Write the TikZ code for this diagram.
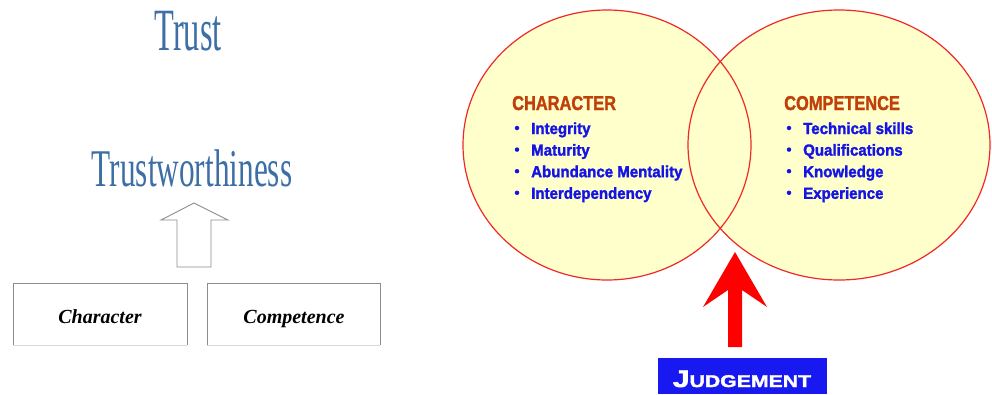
\documentclass[tikz,border=0pt]{standalone}
\usepackage{fontspec}
\setmainfont{Liberation Serif}
\newfontfamily\vsans{Liberation Sans}
\newfontfamily\vheavy{Liberation Sans Bold}[FakeBold=1.8]
\definecolor{trustblue}{HTML}{3D6FA6}
\definecolor{venfill}{HTML}{FFFFCC}
\definecolor{venline}{HTML}{F02828}
\definecolor{headred}{HTML}{C0400A}
\definecolor{itemblue}{HTML}{1414E6}
\definecolor{judgeblue}{HTML}{1818F0}
\definecolor{boxgray}{HTML}{8C8C8C}
\tikzset{
  bigtitle/.style={anchor=base, text=trustblue, inner sep=0pt},
  boxtext/.style={anchor=base, inner sep=0pt, font=\fontsize{20}{20}\selectfont\bfseries\itshape},
  venhead/.style={anchor=base west, inner sep=0pt, text=headred},
  venitem/.style={anchor=base west, inner sep=0pt, text=itemblue},
  venbullet/.style={circle, fill=itemblue, inner sep=0pt, minimum size=4.5pt},
}
\newcommand{\vhead}[1]{\scalebox{0.82}[1]{\vheavy\fontsize{20}{20}\selectfont #1}}
\newcommand{\vitem}[1]{\scalebox{0.94}[1]{\vheavy\fontsize{16}{16}\selectfont #1}}
\begin{document}
\begin{tikzpicture}[x=1pt,y=-1pt]
\useasboundingbox (0,0) rectangle (992,394);
% left part
\node[bigtitle] (trust) at (188,50) {\scalebox{0.54}[1]{\fontsize{60}{60}\selectfont Trust}};
\node[bigtitle] (tw) at (192,186) {\scalebox{0.59}[1]{\fontsize{53}{53}\selectfont Trustworthiness}};
\draw[boxgray, line width=0.9pt, line join=miter]
  (194,203) -- (228,220) -- (211,220) -- (211,267) -- (177,267) -- (177,220) -- (161,220) -- cycle;
\draw[boxgray, line width=0.9pt] (13,345) -- (13,283) -- (187,283) -- (187,345);
\draw[gray!30, line width=0.6pt] (13,345) -- (187,345);
\draw[boxgray, line width=0.9pt] (207,345) -- (207,283) -- (380,283) -- (380,345);
\draw[gray!30, line width=0.6pt] (207,345) -- (380,345);
\node[boxtext] (char) at (100,323) {Character};
\node[boxtext] (comp) at (294,323) {Competence};
% Venn diagram
\fill[venfill] (607,145) ellipse [x radius=144, y radius=135];
\fill[venfill] (839,145) ellipse [x radius=151, y radius=135];
\draw[venline, line width=1.2pt] (607,145) ellipse [x radius=144, y radius=135];
\draw[venline, line width=1.2pt] (839,145) ellipse [x radius=151, y radius=135];
\node[venhead] (ch) at (512,110) {\vhead{CHARACTER}};
\node[venhead] (co) at (784,110) {\vhead{COMPETENCE}};
\foreach \t [count=\i] in {Integrity,Maturity,Abundance Mentality,Interdependency}{
  \node[venbullet] (lb\i) at (517,{128+21.6*(\i-1)}) {};
  \node[venitem] (li\i) at (531,{134+21.6*(\i-1)}) {\vitem{\t}};
}
\foreach \t [count=\i] in {Technical skills,Qualifications,Knowledge,Experience}{
  \node[venbullet] (rb\i) at (789,{128+21.6*(\i-1)}) {};
  \node[venitem] (ri\i) at (803,{134+21.6*(\i-1)}) {\vitem{\t}};
}
% red arrow
\fill[red] (735,252) -- (767,307) -- (742,290) -- (742,347) -- (728,347) -- (728,290) -- (703,307) -- cycle;
% judgement box
\fill[judgeblue] (658,358) rectangle (827,394);
\node[anchor=base, inner sep=0pt, text=white] (judge) at (742,387)
  {\scalebox{1.25}[1]{\vheavy\fontsize{24}{24}\selectfont J\fontsize{17}{17}\selectfont UDGEMENT}};
\end{tikzpicture}
\end{document}
